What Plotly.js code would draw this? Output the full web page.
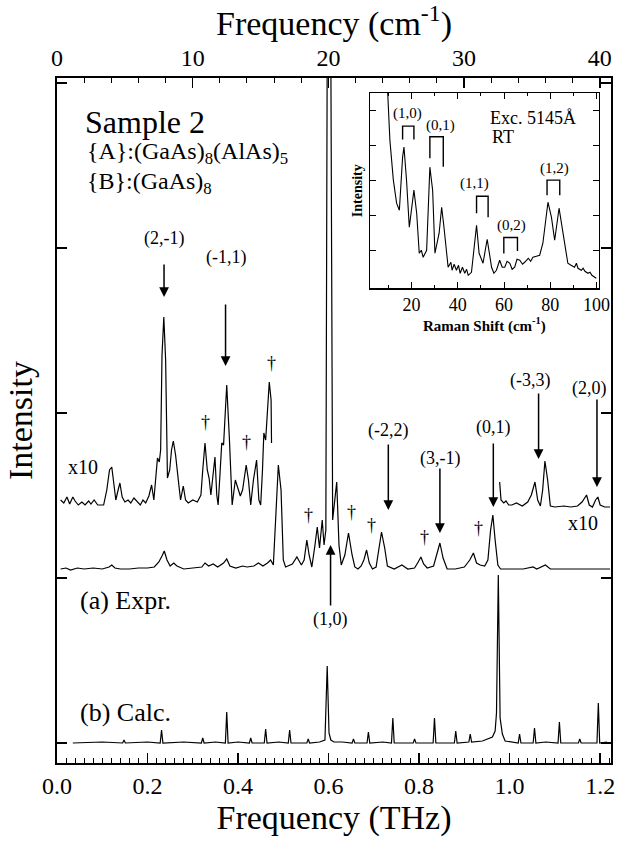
<!DOCTYPE html>
<html><head><meta charset="utf-8">
<script src="https://cdn.plot.ly/plotly-3.0.1.min.js"></script>
<style>body{margin:0;background:#fff}#chart{width:617px;height:842px}</style>
</head><body><div id="chart"></div>
<script>
// ---- Data (intensity in arbitrary units, each trace relative to its own baseline) ----
const exprX = [0.008,0.02,0.03,0.045,0.06,0.08,0.10,0.115,0.121,0.128,0.14,0.16,0.18,0.20,0.215,0.225,0.232,0.237,0.243,0.25,0.258,0.265,0.28,0.30,0.32,0.327,0.335,0.345,0.355,0.368,0.375,0.382,0.395,0.41,0.42,0.435,0.445,0.455,0.465,0.472,0.478,0.483,0.489,0.495,0.50,0.505,0.52,0.53,0.54,0.546,0.552,0.557,0.563,0.57,0.575,0.58,0.586,0.59,0.594,0.597,0.605,0.609,0.613,0.618,0.623,0.628,0.636,0.644,0.652,0.658,0.665,0.672,0.678,0.684,0.69,0.697,0.705,0.711,0.717,0.724,0.73,0.745,0.762,0.775,0.79,0.798,0.804,0.81,0.818,0.832,0.84,0.846,0.853,0.862,0.88,0.90,0.912,0.92,0.927,0.935,0.945,0.952,0.958,0.963,0.968,0.974,0.98,1.0,1.03,1.052,1.06,1.079,1.09,1.12,1.15,1.18,1.222];
const exprY = [0,1,-1,1,0,1,0,2,4,1,0,0,1,1,2,7,13,18,9,3,6,3,0,1,2,6,3,5,2,6,10,3,1,3,2,3,6,3,6,9,4,49,104,79,9,2,5,12,4,9,29,14,2,24,42,21,49,24,39,520,520,49,64,87,24,4,14,36,14,2,0,3,9,19,6,0,2,21,37,21,3,0,4,0,1,7,12,5,1,3,17,26,11,0,0,2,9,16,6,4,3,9,39,54,29,4,0,0,0,2,0,4,0,0,0,0,0];

const x10LeftX = [0.008,0.015,0.022,0.028,0.035,0.04,0.047,0.055,0.062,0.07,0.075,0.082,0.09,0.103,0.11,0.116,0.121,0.126,0.13,0.135,0.139,0.144,0.15,0.157,0.163,0.17,0.177,0.184,0.19,0.196,0.203,0.209,0.214,0.218,0.222,0.226,0.229,0.232,0.236,0.240,0.244,0.249,0.253,0.257,0.262,0.268,0.273,0.279,0.284,0.29,0.30,0.31,0.318,0.322,0.327,0.332,0.336,0.34,0.345,0.349,0.353,0.356,0.36,0.364,0.368,0.375,0.381,0.387,0.394,0.40,0.405,0.41,0.418,0.423,0.428,0.434,0.441,0.446,0.45,0.454,0.457,0.461,0.465,0.469,0.473,0.474];
const x10LeftY = [6,3,9,2,9,5,1,4,1,5,2,6,1,1,16,36,39,21,6,16,23,9,4,6,3,8,5,1,6,3,10,21,6,26,48,44,56,151,189,146,28,36,56,65,51,26,6,20,6,3,6,4,11,36,63,36,28,11,36,49,11,1,31,63,61,121,66,1,26,16,10,16,41,26,1,26,46,6,1,36,73,66,96,124,106,63];

const x10RightX = [0.978,0.981,0.987,0.992,0.998,1.005,1.015,1.028,1.04,1.048,1.056,1.062,1.068,1.073,1.078,1.084,1.09,1.10,1.12,1.135,1.15,1.16,1.17,1.176,1.183,1.19,1.195,1.20,1.21,1.222];
const x10RightY = [24,6,3,5,1,1,3,0,4,11,24,6,0,16,45,26,0,-1,0,-1,0,4,11,1,-1,6,9,1,-1,-1];

const calcX = [0.035,0.10,0.145,0.148,0.151,0.20,0.228,0.231,0.234,0.28,0.319,0.322,0.325,0.35,0.372,0.375,0.378,0.40,0.425,0.428,0.431,0.458,0.461,0.464,0.49,0.511,0.514,0.517,0.552,0.555,0.558,0.58,0.592,0.597,0.601,0.605,0.612,0.63,0.652,0.655,0.658,0.685,0.688,0.691,0.72,0.739,0.742,0.745,0.787,0.79,0.793,0.831,0.834,0.837,0.878,0.881,0.884,0.91,0.913,0.916,0.94,0.962,0.968,0.971,0.975,0.979,0.984,0.99,1.019,1.022,1.025,1.052,1.055,1.058,1.08,1.107,1.11,1.113,1.152,1.155,1.158,1.193,1.196,1.199,1.215];
const calcY = [0,1,0,3,0,1,0,13,0,1,0,5,0,1,0,31,0,1,0,5,0,0,14,0,1,0,13,0,0,4,0,1,3,77,10,3,1,1,0,4,0,0,11,0,1,0,25,0,0,4,0,0,25,0,0,12,0,1,9,1,2,6,12,30,168,25,9,2,0,9,0,0,15,0,1,0,21,0,0,4,0,0,40,0,1];

const insetShift = [9.5,10.6,12.1,13.5,14.7,16.1,16.7,17.8,19.0,21.0,22.2,23.3,24.2,25.0,26.5,27.9,29.1,30.1,31.9,33.0,34.0,35.8,37.0,37.5,38.4,39.4,40.3,41,42.0,43.0,43.8,44.5,45.9,46.9,48.1,49.2,50.9,52.7,54.6,55.6,56.7,58.1,59.2,60.3,61.3,62.5,63.5,64.6,65.6,66.8,68.0,68.9,70.5,71.5,72.5,74.0,75.4,76.8,79.0,80.5,81.9,83.8,85.5,87.6,89,90.5,91.3,92,93.4,94.2,95,96.3,97.2,98,99.9];
const insetInt = [200,145,105,82,75,128,138,105,58,95,72,32,35,28,35,118,95,32,52,78,58,18,23,15,21,15,20,12,18,12,16,10,13,32,60,32,22,46,18,12,15,25,18,18,24,22,16,18,26,25,21,23,27,24,28,29,30,42,83,68,45,77,52,22,20,18,22,17,15,17,14,12,13,10,7];

// inset peak brackets: [left, right, top, leftLeg, rightLeg]
const insetBrackets = [[16.1,21.0,159,145.7,145.7],[27.9,33.7,148.3,127,118.3],[48.1,53.1,89,72,68],[59.9,65.8,47.7,31.7,34.3],[78.6,84.1,105,90,90]];
const insetBracketLabels = ['(1,0)','(0,1)','(1,1)','(0,2)','(1,2)'];
const insetLabelPos = [[18.4,172],[32.7,160],[47.3,102],[63.3,60],[81.9,117]];

// mode assignments: [label, freq THz, arrow tip, arrow length px, label x, label y]
const modeLabels = [['(2,-1)',0.2365,446,34,0.2365,505],['(-1,1)',0.3724,377,63,0.3724,486],['(-2,2)',0.732,233,67,0.732,313],['(3,-1)',0.846,210,66,0.846,285],['(0,1)',0.964,236,65,0.964,316],['(-3,3)',1.064,284,67,1.045,363],['(2,0)',1.193,256,89,1.176,355]];
const daggers = [[0.327,321],[0.419,301],[0.473,380],[0.555,228],[0.650,231],[0.695,218],[0.813,206],[0.931,215]];

// vertical stacking offsets (style)
const offCalc = 0, offExpr = 174, offX10 = 237;
const THz2cm = 33.356;
const xMax = 1.224;

const F = 'Liberation Serif';
const line = {color:'#000', width:1.2};
const traces = [
  {x:calcX, y:calcY.map(v=>v+offCalc), mode:'lines', line:line, xaxis:'x', yaxis:'y', hoverinfo:'skip'},
  {x:exprX, y:exprY.map(v=>v+offExpr), mode:'lines', line:line, xaxis:'x', yaxis:'y', hoverinfo:'skip'},
  {x:x10LeftX, y:x10LeftY.map(v=>v+offX10), mode:'lines', line:line, xaxis:'x', yaxis:'y', hoverinfo:'skip'},
  {x:x10RightX, y:x10RightY.map(v=>v+offX10), mode:'lines', line:line, xaxis:'x', yaxis:'y', hoverinfo:'skip'},
  {x:[], y:[], xaxis:'x2', yaxis:'y', mode:'lines'},
  {x:insetShift, y:insetInt, mode:'lines', line:{color:'#000', width:1.1}, xaxis:'x3', yaxis:'y3', hoverinfo:'skip'}
];

const ann = [];
const txt = (x,y,t,s,anchor,ref) => ann.push({x:x,y:y,text:t,showarrow:false,xanchor:anchor||'center',yanchor:'middle',font:{family:F,size:s,color:'#000'},xref:ref?ref[0]:'x',yref:ref?ref[1]:'y'});
txt(0.0575,621,'Sample 2',32,'left');
txt(0.062,590,'{A}:(GaAs)<sub>8</sub>(AlAs)<sub>5</sub>',24,'left');
txt(0.062,560,'{B}:(GaAs)<sub>8</sub>',24,'left');
modeLabels.forEach(m=>{
  txt(m[4],m[5],m[0],18);
  ann.push({x:m[1],y:m[2],ax:0,ay:-m[3],text:'',showarrow:true,arrowhead:2,arrowsize:1.3,arrowwidth:1.5,arrowcolor:'#000',xref:'x',yref:'y'});
});
ann.push({x:0.6044,y:198,ax:0,ay:62,text:'',showarrow:true,arrowhead:2,arrowsize:1.3,arrowwidth:1.5,arrowcolor:'#000',xref:'x',yref:'y'});
txt(0.6044,124,'(1,0)',18);
daggers.forEach(d=>txt(d[0],d[1],'†',18));
txt(0.058,276,'x10',20);
txt(1.163,220,'x10',20);
txt(0.046,143,'(a) Expr.',26,'left');
txt(0.046,31,'(b) Calc.',26,'left');
insetBracketLabels.forEach((t,i)=>txt(insetLabelPos[i][0],insetLabelPos[i][1],t,15,'center',['x3','y3']));
txt(53.0,167,'Exc. 5145Å',18,'left',['x3','y3']);
txt(53.8,148,'RT',18,'left',['x3','y3']);

const shapes = insetBrackets.map(b=>({type:'path',xref:'x3',yref:'y3',
  path:`M ${b[0]},${b[3]} L ${b[0]},${b[2]} L ${b[1]},${b[2]} L ${b[1]},${b[4]}`,
  line:{color:'#000',width:1.4}}));

const axBase = {showgrid:false, zeroline:false, showline:true, linecolor:'#000', ticks:'inside', tickcolor:'#000'};
const layout = {
  width:617, height:842, margin:{l:57,r:6,t:78,b:79}, paper_bgcolor:'#fff', plot_bgcolor:'#fff',
  showlegend:false, font:{family:F,color:'#000'},
  xaxis: Object.assign({}, axBase, {range:[0,xMax], domain:[0,1], anchor:'y', linewidth:2, ticklen:10, tickwidth:1.5,
    dtick:0.2, tick0:0, tickformat:'.1f', tickfont:{family:F,size:24},
    minor:{dtick:0.02, ticklen:5, ticks:'inside', tickcolor:'#000', tickwidth:1},
    title:{text:'Frequency (THz)', font:{family:F,size:34}, standoff:2}}),
  xaxis2: Object.assign({}, axBase, {range:[0,xMax*THz2cm], overlaying:'x', side:'top', anchor:'y', linewidth:2, ticklen:10, tickwidth:1.5,
    dtick:10, tick0:0, tickfont:{family:F,size:24},
    minor:{dtick:2, ticklen:5, ticks:'inside', tickcolor:'#000', tickwidth:1},
    title:{text:'Frequency (cm<sup>-1</sup>)', font:{family:F,size:34}, standoff:2}}),
  yaxis: Object.assign({}, axBase, {range:[-20,665], domain:[0,1], anchor:'x', linewidth:2, ticklen:10, tickwidth:1.5,
    tickvals:[0,165,330,495,660], showticklabels:false, mirror:'ticks',
    title:{text:'Intensity', font:{family:F,size:34}, standoff:12}}),
  xaxis3: Object.assign({}, axBase, {range:[2,101], domain:[0.565,0.978], anchor:'y3', linewidth:1.5, ticklen:6, tickwidth:1,
    tickvals:[20,40,60,80,100], mirror:'ticks', tickfont:{family:F,size:18},
    minor:{dtick:10, ticklen:3, ticks:'inside', tickcolor:'#000'},
    title:{text:'<b>Raman Shift (cm<sup>-1</sup>)</b>', font:{family:F,size:15}, standoff:2}}),
  yaxis3: Object.assign({}, axBase, {range:[-3,192], domain:[0.693,0.978], anchor:'x3', linewidth:1.5, ticklen:6, tickwidth:1,
    tickvals:[35,70,105,140,175], mirror:'ticks', showticklabels:false,
    title:{text:'<b>Intensity</b>', font:{family:F,size:14}, standoff:2}}),
  annotations: ann, shapes: shapes
};
Plotly.newPlot('chart', traces, layout, {staticPlot:true, displayModeBar:false});
</script></body></html>
